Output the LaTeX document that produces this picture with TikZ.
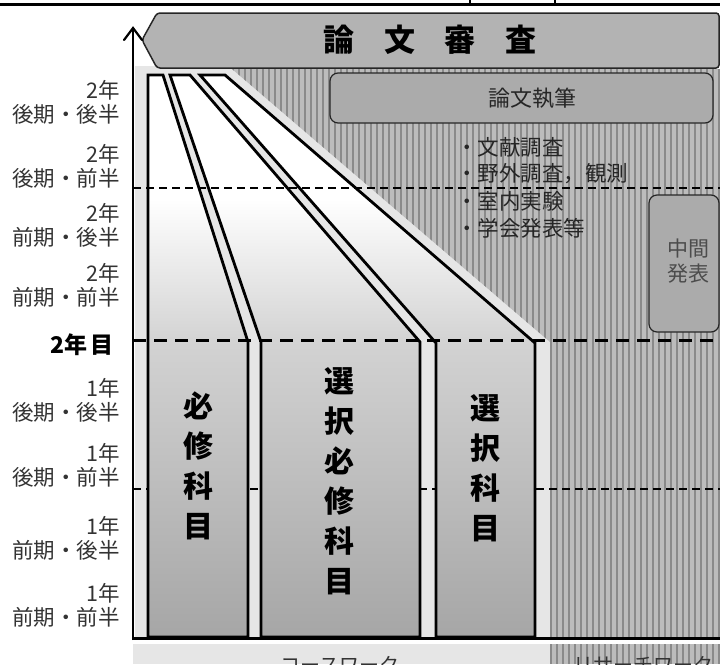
\documentclass[tikz,border=0pt]{standalone}
\usepackage{fontspec}
\setmainfont{Noto Sans CJK JP}
\usetikzlibrary{arrows.meta}
\definecolor{lightbg}{HTML}{E6E6E6}
\definecolor{hatchbase}{HTML}{BCBCBC}
\definecolor{hatchline}{HTML}{8A8A8A}
\definecolor{boxfill}{HTML}{ABABAB}
\definecolor{bannerfill}{HTML}{B3B3B3}
\definecolor{colbot}{HTML}{A6A6A6}
\definecolor{colmid}{HTML}{D2D2D2}
\definecolor{labeltext}{HTML}{333333}
\pgfdeclareverticalshading{colgrad}{100bp}{color(0bp)=(colbot); color(25bp)=(colbot); color(51bp)=(colmid); color(64bp)=(white); color(100bp)=(white)}
\begin{document}
\begin{tikzpicture}[x=1pt,y=-1pt,
  colbox/.style={draw=black, line width=2.8pt, line join=miter, shading=colgrad},
  roundbox/.style={draw=black!85, line width=1.2pt, fill=boxfill, rounded corners=8pt},
  leftlab/.style={anchor=east, align=right, text=labeltext, inner sep=0pt, font=\fontsize{21.5}{24}\selectfont},
  coltext/.style={align=center, inner sep=0pt, font=\bfseries\fontsize{30}{40}\selectfont},
  bullettext/.style={anchor=west, inner sep=0pt, text=black!85, font=\fontsize{21.5}{24}\selectfont},
  thindash/.style={line width=1.5pt, dash pattern=on 8pt off 5pt},
  thickdash/.style={line width=3pt, dash pattern=on 13pt off 8pt}
]
\path[use as bounding box, clip] (0,0) rectangle (720,664);
\fill[white] (0,0) rectangle (720,664);

% light background
\fill[lightbg] (135,66) rectangle (552,638);
\fill[lightbg] (133,644) rectangle (552,664);

% hatched research region
\begin{scope}
  \clip (232,69) -- (720,69) -- (720,638) -- (550,638) -- (550,342) -- cycle;
  \fill[hatchbase] (220,60) rectangle (720,640);
  \foreach \x in {233,239,...,719} \draw[hatchline, line width=1.1pt] (\x,60) -- (\x,640);
\end{scope}
\begin{scope}
  \clip (550,644) rectangle (720,664);
  \fill[hatchbase] (550,644) rectangle (720,664);
  \foreach \x in {551,557,...,719} \draw[hatchline, line width=1.1pt] (\x,644) -- (\x,664);
\end{scope}

% dashed line under columns
\coordinate (d3l) at (133,489); \coordinate (d3r) at (720,489);
\draw[thindash] (d3l) -- (d3r);

% columns
\path[colbox] (148,75) -- (163,75) -- (248,342) -- (248,637) -- (148,637) -- cycle;
\path[colbox] (170,75) -- (190,75) -- (420,342) -- (420,637) -- (261,637) -- (261,342) -- cycle;
\path[colbox] (200,75) -- (225,75) -- (535,343) -- (535,637) -- (436,637) -- (436,343) -- cycle;

% dashed lines over columns
\coordinate (d1l) at (133,188); \coordinate (d1r) at (720,188);
\coordinate (d2l) at (133,340); \coordinate (d2r) at (720,340);
\draw[thindash] (d1l) -- (d1r);
\draw[thickdash] (d2l) -- (d2r);

% banner
\draw[fill=bannerfill, draw=black!85, line width=1.5pt, rounded corners=3pt]
  (142,40) -- (157,13) -- (719,13) -- (719,68) -- (157,68) -- cycle;
\node[inner sep=0pt, font=\bfseries\fontsize{31}{31}\selectfont] (shinsa) at (430,40) {論\hspace{0.95em}文\hspace{0.95em}審\hspace{0.95em}査};

% thesis writing box
\draw[roundbox] (330,73) rectangle (713,123);
\node[inner sep=0pt, text=black!85, font=\fontsize{22}{22}\selectfont] (shippitsu) at (532,98) {論文執筆};

% bullets
\node[bullettext] (b1) at (456,147) {・文献調査};
\node[bullettext] (b2) at (456,174) {・野外調査，観測};
\node[bullettext] (b3) at (456,201) {・室内実験};
\node[bullettext] (b4) at (456,228) {・学会発表等};

% interim presentation box
\draw[roundbox] (649,195) rectangle (719,332);
\node[align=center, inner sep=0pt, text=black!70, font=\fontsize{21}{25}\selectfont] (chukan) at (688,261) {中間\\発表};

% column texts
\node[coltext] (hisshu) at (198,466) {必\\修\\科\\目};
\node[coltext] (sentakuhisshu) at (339,481) {選\\択\\必\\修\\科\\目};
\node[coltext] (sentaku) at (485,468) {選\\択\\科\\目};

% bottom line and axis
\coordinate (bl) at (133,638); \coordinate (br) at (720,638);
\draw[line width=3pt] (bl) -- (br);
\coordinate (axisbot) at (133,640); \coordinate (axistop) at (133,28);
\draw[line width=2.5pt] (axisbot) -- (axistop);
\draw[line width=2.2pt, line cap=round, line join=miter] (axistop) ++(-9,12) -- (axistop) -- ++(9,12);

% top table remnant
\coordinate (tl) at (0,4); \coordinate (tr) at (720,4);
\draw[line width=3pt] (tl) -- (tr);
\coordinate (t1a) at (470,0); \coordinate (t1b) at (470,4);
\coordinate (t2a) at (555,0); \coordinate (t2b) at (555,4);
\draw[line width=1.5pt] (t1a) -- (t1b);
\draw[line width=2.5pt] (t2a) -- (t2b);

% left labels
\node[leftlab] (l1) at (120,102) {2年\\後期・後半};
\node[leftlab] (l2) at (120,166) {2年\\後期・前半};
\node[leftlab] (l3) at (120,225) {2年\\前期・後半};
\node[leftlab] (l4) at (120,285) {2年\\前期・前半};
\node[anchor=east, inner sep=0pt, font=\bfseries\fontsize{23}{23}\selectfont] (l5) at (114,345) {2年\hspace{3pt}目};
\node[leftlab] (l6) at (120,400) {1年\\後期・後半};
\node[leftlab] (l7) at (120,465) {1年\\後期・前半};
\node[leftlab] (l8) at (120,538) {1年\\前期・後半};
\node[leftlab] (l9) at (120,605) {1年\\前期・前半};

% bottom labels (cut off by the frame, as in the reference)
\node[inner sep=0pt, text=labeltext, font=\fontsize{20}{20}\selectfont] (course) at (340,665) {コースワーク};
\node[inner sep=0pt, text=labeltext, font=\fontsize{20}{20}\selectfont] (research) at (643,665) {リサーチワーク};
\end{tikzpicture}
\end{document}
